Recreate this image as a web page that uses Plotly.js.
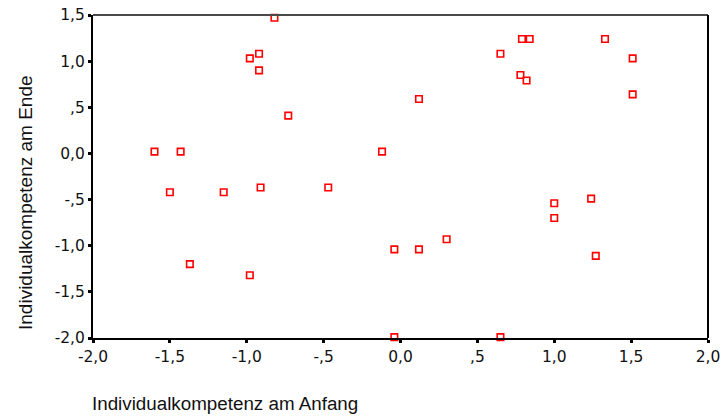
<!DOCTYPE html>
<html>
<head>
<meta charset="utf-8">
<script src="https://cdn.plot.ly/plotly-3.0.1.min.js"></script>
<style>html,body{margin:0;padding:0;background:#fff;}#chart{width:722px;height:417px;}</style>
</head>
<body>
<div id="chart"></div>
<script>
const anfang = [-1.60, -1.50, -1.43, -1.37, -1.15, -0.98, -0.92, -0.92, -0.98, -0.91, -0.82, -0.73, -0.47, -0.12, -0.04, -0.04, 0.12, 0.12, 0.30, 0.65, 0.65, 0.78, 0.79, 0.82, 0.84, 1.00, 1.00, 1.24, 1.27, 1.33, 1.51, 1.51];
const ende   = [0.02, -0.42, 0.02, -1.20, -0.42, 1.03, 1.08, 0.90, -1.32, -0.37, 1.47, 0.41, -0.37, 0.02, -1.04, -1.99, 0.59, -1.04, -0.93, 1.08, -1.99, 0.85, 1.24, 0.79, 1.24, -0.54, -0.70, -0.49, -1.11, 1.24, 1.03, 0.64];
const xTickVals = [-2, -1.5, -1, -0.5, 0, 0.5, 1, 1.5, 2];
const xTickText = ['-2,0', '-1,5', '-1,0', '-,5', '0,0', ',5', '1,0', '1,5', '2,0'];
const yTickVals = [-2, -1.5, -1, -0.5, 0, 0.5, 1, 1.5];
const yTickText = ['-2,0', '-1,5', '-1,0', '-,5', '0,0', ',5', '1,0', '1,5'];
const xTitle = 'Individualkompetenz am Anfang';
const yTitle = 'Individualkompetenz am Ende';

const font = 'Liberation Sans, Arial, sans-serif';
const tickFont = 'DejaVu Sans, Liberation Sans, sans-serif';
const trace = {
  x: anfang, y: ende, type: 'scatter', mode: 'markers', cliponaxis: false,
  marker: {symbol: 'square-open', size: 6.5, color: '#ff0000', line: {width: 1.6, color: '#ff0000'}},
  hoverinfo: 'skip'
};
const layout = {
  width: 722, height: 417,
  margin: {l: 93, r: 14, t: 15, b: 79},
  paper_bgcolor: '#ffffff', plot_bgcolor: '#ffffff',
  showlegend: false,
  font: {family: font, color: '#111', size: 14},
  xaxis: {
    range: [-2, 2], tickvals: xTickVals, ticktext: xTickText,
    showgrid: false, zeroline: false, showline: true, linecolor: '#000', linewidth: 2,
    ticks: 'outside', ticklen: 3, tickwidth: 3, tickcolor: '#000',
    tickfont: {family: tickFont, size: 15.5, color: '#111'}, fixedrange: true
  },
  yaxis: {
    range: [-2, 1.5], tickvals: yTickVals, ticktext: yTickText,
    showgrid: false, zeroline: false, showline: true, linecolor: '#000', linewidth: 2,
    ticks: 'outside', ticklen: 3, tickwidth: 3, tickcolor: '#000',
    tickfont: {family: tickFont, size: 15.5, color: '#111'}, fixedrange: true
  },
  shapes: [
    {type: 'line', xref: 'paper', yref: 'paper', x0: 0, x1: 1, y0: 1, y1: 1, line: {color: '#4a4a4a', width: 2}},
    {type: 'line', xref: 'paper', yref: 'paper', x0: 1, x1: 1, y0: 0, y1: 1, line: {color: '#000', width: 2}}
  ],
  annotations: [
    {text: xTitle, xref: 'paper', yref: 'paper', x: (225 - 93) / 615, y: -(403 - 338) / 323, xanchor: 'center', yanchor: 'middle', showarrow: false, font: {family: font, size: 18.8, color: '#111'}},
    {text: yTitle, xref: 'paper', yref: 'paper', x: (25 - 93) / 615, y: (338 - 203) / 323, xanchor: 'center', yanchor: 'middle', textangle: -90, showarrow: false, font: {family: font, size: 19, color: '#111'}}
  ]
};
Plotly.newPlot('chart', [trace], layout, {displayModeBar: false, staticPlot: true});
</script>
</body>
</html>
